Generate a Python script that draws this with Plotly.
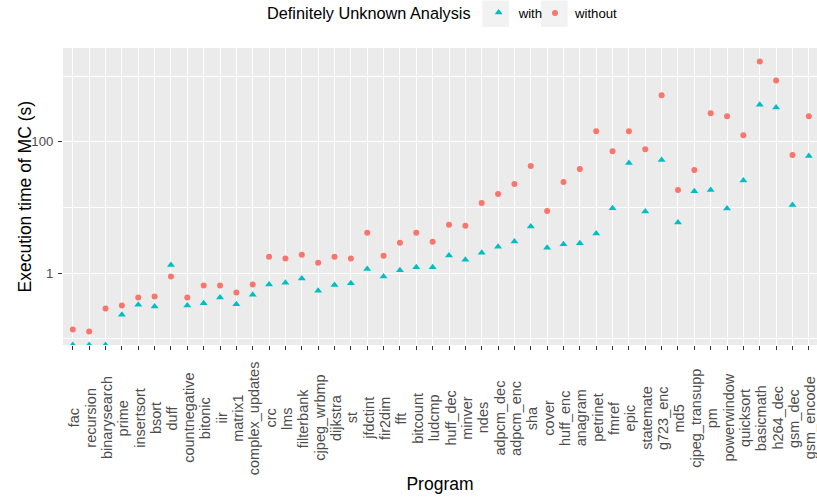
import numpy as np
import plotly.graph_objects as go

programs = ["fac", "recursion", "binarysearch", "prime", "insertsort", "bsort", "duff",
            "countnegative", "bitonic", "iir", "matrix1", "complex_updates", "crc", "lms",
            "filterbank", "cjpeg_wrbmp", "dijkstra", "st", "jfdctint", "fir2dim", "fft",
            "bitcount", "ludcmp", "huff_dec", "minver", "ndes", "adpcm_dec", "adpcm_enc",
            "sha", "cover", "huff_enc", "anagram", "petrinet", "fmref", "epic", "statemate",
            "g723_enc", "md5", "cjpeg_transupp", "pm", "powerwindow", "quicksort",
            "basicmath", "h264_dec", "gsm_dec", "gsm_encode"]

# Execution time (s) with the definitely-unknown analysis (0 = below measurable)
with_vals = [0, 0, 0, 0.233, 0.331, 0.312, 1.34,
             0.323, 0.351, 0.427, 0.339, 0.469, 0.673, 0.72,
             0.83, 0.54, 0.665, 0.705, 1.16, 0.89, 1.11,
             1.23, 1.23, 1.87, 1.61, 2.05, 2.53, 3.05,
             5.15, 2.44, 2.75, 2.85, 4.04, 9.76, 47.4, 8.69,
             52.6, 5.93, 17.7, 18.5, 9.66, 25.7,
             367, 331, 10.9, 60.5]

# Execution time (s) without the analysis
without_vals = [0.140, 0.130, 0.291, 0.323, 0.427, 0.442, 0.889,
                0.427, 0.65, 0.65, 0.509, 0.673, 1.79, 1.67,
                1.91, 1.45, 1.79, 1.67, 4.13, 1.85, 2.91,
                4.13, 3.01, 5.45, 5.26, 11.7, 16.1, 22.8,
                42.7, 8.88, 24.4, 38.5, 145, 72.0, 145, 77.3,
                508, 18.5, 37.1, 271, 244, 126,
                1664, 858, 62.7, 244]

y_ticks = [1, 100]
y_minor = [0.1, 10, 1000]
legend_title = "Definitely Unknown Analysis"
series_names = ["with", "without"]
x_title = "Program"
y_title = "Execution time of MC (s)"

FONT = "Liberation Sans"
RED = "#F8766D"
TEAL = "#00BFC4"

W, H = 817, 498
ML, MR, MT, MB = 63, 0, 48, 153
PW, PH = W - ML - MR, H - MT - MB

def px_to_paper_x(px):
    return (px - ML) / PW

def px_to_paper_y(py):
    return 1 - (py - MT) / PH

# log-scale range with 5% expansion (ggplot style)
allv = np.array(with_vals + without_vals, dtype=float)
logs = np.log10(allv[allv > 0])
lo, hi = logs.min(), logs.max()
pad = 0.05 * (hi - lo)
ymin, ymax = lo - pad, hi + pad
floor_val = 10 ** ymin  # zero values drawn at the panel edge (like -Inf in ggplot)

def clamp(v):
    return [x if x > 0 else floor_val for x in v]

fig = go.Figure()
fig.add_trace(go.Scatter(
    x=programs, y=clamp(with_vals), mode="markers", name=series_names[0],
    marker=dict(symbol="triangle-up", size=7, color=TEAL),
    cliponaxis=True, legend="legend"))
fig.add_trace(go.Scatter(
    x=programs, y=clamp(without_vals), mode="markers", name=series_names[1],
    marker=dict(symbol="circle", size=6, color=RED),
    cliponaxis=True, legend="legend2"))

# x tick labels: rotated, centred vertically (ggplot angle=90 style)
annotations = []
for i, p in enumerate(programs):
    annotations.append(dict(
        x=i, xref="x", y=px_to_paper_y(418), yref="paper",
        text=p, showarrow=False, textangle=-90,
        xanchor="center", yanchor="middle", xshift=1.5,
        font=dict(size=14.5, color="#4D4D4D", family=FONT)))

# y axis title
annotations.append(dict(
    x=px_to_paper_x(24), xref="paper", y=0.5, yref="paper",
    text=y_title, showarrow=False, textangle=-90,
    xanchor="center", yanchor="middle",
    font=dict(size=17.5, color="black", family=FONT)))

# grey legend key backgrounds
shapes = []
for x0 in [482.3, 541.0]:
    shapes.append(dict(type="rect", xref="paper", yref="paper",
                       x0=px_to_paper_x(x0), x1=px_to_paper_x(x0 + 26.7),
                       y0=px_to_paper_y(0.5), y1=px_to_paper_y(27),
                       fillcolor="#F2F2F2", line=dict(width=0), layer="below"))

legend_common = dict(orientation="h", yanchor="middle", y=px_to_paper_y(13.5),
                     xanchor="left", font=dict(size=13.2, color="black"),
                     itemwidth=30, bgcolor="rgba(0,0,0,0)", borderwidth=0)

n = len(programs)
fig.update_layout(
    template="none",
    width=W, height=H,
    margin=dict(l=ML, r=MR, t=MT, b=MB, pad=0, autoexpand=False),
    paper_bgcolor="white", plot_bgcolor="#EBEBEB",
    font=dict(family=FONT, color="black"),
    showlegend=True,
    legend=dict(x=px_to_paper_x(265),
                title=dict(text=legend_title, side="left", font=dict(size=16.3, color="black")),
                **legend_common),
    legend2=dict(x=px_to_paper_x(535), **legend_common),
    annotations=annotations,
    shapes=shapes,
    xaxis=dict(
        type="category", categoryorder="array", categoryarray=programs,
        range=[-0.6, n - 0.5], automargin=False,
        tickmode="array", tickvals=list(range(n)), showticklabels=False,
        ticks="outside", ticklen=4, tickwidth=1.1, tickcolor="#333333",
        showgrid=True, gridcolor="white", gridwidth=1.4,
        zeroline=False, showline=False,
        title=dict(text=x_title, font=dict(size=17.5, color="black"), standoff=128),
    ),
    yaxis=dict(
        type="log", range=[ymin, ymax], automargin=False,
        tickvals=y_ticks, ticktext=[str(t) for t in y_ticks],
        tickfont=dict(size=13.2, color="#4D4D4D", family=FONT),
        ticks="outside", ticklen=4, tickwidth=1.1, tickcolor="#333333",
        ticklabelstandoff=2,
        showgrid=True, gridcolor="white", gridwidth=1.4,
        minor=dict(tickvals=y_minor, showgrid=True, gridcolor="white",
                   gridwidth=0.7, ticks=""),
        zeroline=False, showline=False,
    ),
)

fig.write_html("out.html", post_script="document.body.style.margin='0';",
               config={"displayModeBar": False})
